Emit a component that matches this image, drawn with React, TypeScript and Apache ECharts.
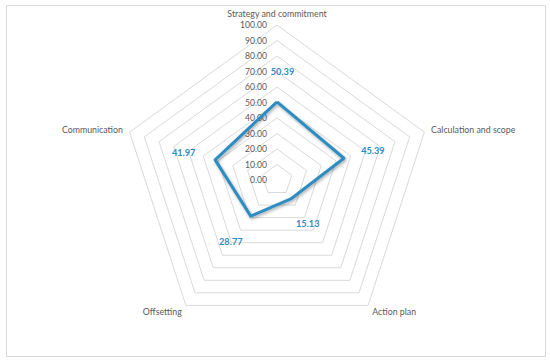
import React, { useEffect, useRef } from "react";
import * as echarts from "echarts";

const indicators = [
  "Strategy and commitment",
  "Calculation and scope",
  "Action plan",
  "Offsetting",
  "Communication",
];
const scores = [50.39, 45.39, 15.13, 28.77, 41.97];
const axisMin = 0;
const axisMax = 100;
const splitCount = 10;

// label nudges (px) relative to each vertex, in indicator order
const labelNudges: [number, number][] = [
  [5.5, -30],
  [29, -8],
  [17, 25],
  [-20, 25.5],
  [-31.5, -7.7],
];

const FONT = "Lato";
const GRAY = "#595959";
const BLUE = "#2F8DC0";

export default function App() {
  const ref = useRef<HTMLDivElement>(null);
  useEffect(() => {
    if (!ref.current) return;
    const chart = echarts.init(ref.current, null, { renderer: "svg" });
    // ECharts places radar axes counter-clockwise; reorder to get clockwise layout
    const order = indicators.map((_, i) => (i === 0 ? 0 : indicators.length - i));
    const ordNames = order.map((i) => indicators[i]);
    const ordScores = order.map((i) => scores[i]);
    const texts = scores.map((v) => v.toFixed(2));
    chart.setOption({
      animation: false,
      graphic: [
        {
          type: "rect",
          shape: { x: 6.5, y: 5.5, width: 539, height: 351 },
          style: { fill: "none", stroke: "#d9d9d9", lineWidth: 1 },
          silent: true,
        },
      ],
      radar: {
        center: [277, 180],
        radius: 155,
        startAngle: 90,
        shape: "polygon",
        splitNumber: splitCount,
        nameGap: 7,
        axisName: {
          color: GRAY,
          fontFamily: FONT,
          fontSize: 8.8,
        },
        axisLine: { show: false },
        axisTick: { show: false },
        axisLabel: { show: false },
        splitArea: { show: false },
        splitLine: { lineStyle: { color: "#d9d9d9", width: 1 } },
        indicator: ordNames.map((name, i) => ({
          name,
          min: axisMin,
          max: axisMax,
          ...(i === 0
            ? {
                axisLabel: {
                  show: true,
                  color: GRAY,
                  fontFamily: FONT,
                  fontSize: 8.6,
                  margin: 10,
                  formatter: (v: number) => Number(v).toFixed(2),
                },
              }
            : {}),
        })),
      },
      series: [
        {
          type: "radar",
          symbol: "circle",
          symbolSize: 0,
          lineStyle: {
            color: BLUE,
            width: 3,
            shadowColor: "rgba(0,0,0,0.35)",
            shadowBlur: 3,
            shadowOffsetX: 1,
            shadowOffsetY: 1.5,
          },
          itemStyle: { color: BLUE },
          label: {
            show: true,
            position: "inside",
            color: BLUE,
            fontFamily: FONT,
            fontWeight: "bold",
            fontSize: 9.2,
            formatter: (p: any) => Number(p.value).toFixed(2),
          },
          labelLayout: (params: any) => {
            const i = texts.indexOf(params.text);
            if (i < 0) return {};
            return { dx: labelNudges[i][0], dy: labelNudges[i][1] };
          },
          data: [{ value: ordScores, name: "Score" }],
        },
      ],
    });
    return () => chart.dispose();
  }, []);
  return (
    <div
      ref={ref}
      style={{ position: "absolute", left: 0, top: 0, width: 550, height: 362, background: "#fff" }}
    />
  );
}
